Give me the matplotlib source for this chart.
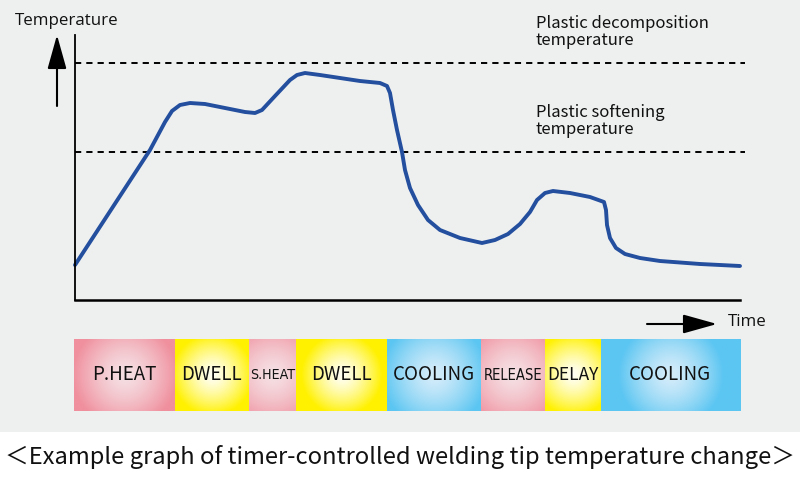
import numpy as np
import matplotlib
matplotlib.use("Agg")
import matplotlib.pyplot as plt

# ---------------- data ----------------
# time in arbitrary units (0..665), temperature in arbitrary units (0..265)
time = [0, 75, 90, 97, 105, 115, 130, 150, 170, 180, 187, 200, 215, 222, 230, 245,
        265, 285, 305, 312, 315, 318, 322, 327, 330, 335, 343, 353, 365, 385, 407,
        420, 433, 445, 455, 462, 470, 478, 495, 515, 529, 531, 532, 535, 541, 550,
        565, 585, 625, 665]
temperature = [35, 150, 178, 189, 195, 197, 196, 192, 188, 187, 190, 204, 220, 225,
               227, 225, 222, 219, 217, 214, 207, 190, 170, 148, 130, 112, 95, 80,
               70, 62, 57, 60, 66, 76, 88, 100, 107, 109, 107, 103, 98, 90, 75, 62,
               52, 46, 42, 39, 36, 34]

decomp_temp = 237
soften_temp = 148

phases = ["P.HEAT", "DWELL", "S.HEAT", "DWELL", "COOLING", "RELEASE", "DELAY", "COOLING"]
durations = [101, 74, 47, 91, 94, 63, 56, 139]
kinds = ["heat", "dwell", "heat", "dwell", "cool", "heat", "dwell", "cool"]

caption = "＜Example graph of timer-controlled welding tip temperature change＞"

# ---------------- fonts ----------------
JP = ["Noto Sans CJK JP", "DejaVu Sans"]

# ---------------- figure ----------------
W, H = 800, 482
fig = plt.figure(figsize=(W / 100, H / 100), dpi=100)
fig.patch.set_facecolor("white")

bg = fig.add_axes([0, 1 - 432 / H, 1, 432 / H])
bg.set_facecolor("#eef0f0")
bg.set_xticks([]); bg.set_yticks([])
for s in bg.spines.values():
    s.set_visible(False)

x0, x1 = 75, 740
ytop, ybot = 35, 300
ax = fig.add_axes([x0 / W, 1 - ybot / H, (x1 - x0) / W, (ybot - ytop) / H])
ax.set_facecolor("none")
ax.set_xlim(0, 665)
ax.set_ylim(0, 265)
ax.set_xticks([]); ax.set_yticks([])
ax.spines["top"].set_visible(False)
ax.spines["right"].set_visible(False)
ax.spines["left"].set_linewidth(1.3)
ax.spines["bottom"].set_linewidth(1.8)

for yv in (decomp_temp, soften_temp):
    ax.plot([0, 670], [yv, yv], color="black", lw=1.4, ls=(0, (3.2, 2.6)),
            clip_on=False, solid_capstyle="butt")

ax.plot(time, temperature, color="#234f9e", lw=2.8, solid_joinstyle="round",
        solid_capstyle="round", clip_on=False)

ax.text(461, 285, "Plastic decomposition\ntemperature", ha="left", va="top",
        linespacing=1.0, family=JP, fontsize=12, color="#111111")
ax.text(461, 196, "Plastic softening\ntemperature", ha="left", va="top",
        linespacing=1.0, family=JP, fontsize=12, color="#111111")

fig.text(15 / W, 1 - 21 / H, "Temperature", ha="left", va="center",
         family=["Open Sans", "DejaVu Sans"], fontsize=12.2, color="#111111")
fig.text(728 / W, 1 - 322 / H, "Time", ha="left", va="center",
         family=["Open Sans", "DejaVu Sans"], fontsize=12.2, color="#111111")
for (xa, ya), (xb, yb) in (((57, 106), (57, 35)), ((647, 324), (717, 324))):
    fig.add_artist(matplotlib.patches.FancyArrowPatch(
        (xa / W, 1 - ya / H), (xb / W, 1 - yb / H), transform=fig.transFigure,
        arrowstyle="-|>,head_length=1.5,head_width=0.42", mutation_scale=14,
        lw=1.5, color="black", shrinkA=0, shrinkB=0))

# phase bars with radial gradients
b_top, b_bot = 339, 411
bx0 = 73.5
bax = fig.add_axes([bx0 / W, 1 - b_bot / H, (x1 - bx0) / W, (b_bot - b_top) / H])
bax.axis("off")

cols = {
    "heat": (np.array([0xf5, 0xe0, 0xe4]) / 255, np.array([0xf0, 0x8f, 0x9d]) / 255),
    "dwell": (np.array([0xff, 0xff, 0xf4]) / 255, np.array([0xff, 0xf1, 0x00]) / 255),
    "cool": (np.array([0xd4, 0xec, 0xfa]) / 255, np.array([0x5c, 0xc6, 0xf2]) / 255),
}
bar_h_px = b_bot - b_top
px_per_unit = (x1 - bx0) / sum(durations)
start = 0
for name, d, k in zip(phases, durations, kinds):
    wpx = int(round(d * px_per_unit))
    xs = (np.arange(wpx) + 0.5) - wpx / 2
    ys = (np.arange(bar_h_px) + 0.5) - bar_h_px / 2
    XX, YY = np.meshgrid(xs, ys)
    R = 52 if k != "dwell" else 40
    t = np.clip(np.sqrt(XX ** 2 + YY ** 2) / R, 0, 1) ** 1.4
    c0, c1 = cols[k]
    img = c0[None, None, :] * (1 - t[..., None]) + c1[None, None, :] * t[..., None]
    bax.imshow(img, extent=[start, start + d, 0, 1], aspect="auto",
               interpolation="bilinear", zorder=1)
    if name in ("S.HEAT", "RELEASE"):
        bax.text(start + d / 2, 0.5, name, ha="center", va="center",
                 family="DejaVu Sans", fontstretch="condensed",
                 fontsize=10.6 if name == "RELEASE" else 10.2,
                 color="#111111", zorder=3)
    else:
        bax.text(start + d / 2, 0.5, name, ha="center", va="center",
                 family=JP, fontsize=12.5 if name == "DELAY" else 13.5,
                 color="#111111", zorder=3)
    start += d
bax.set_xlim(0, sum(durations))
bax.set_ylim(0, 1)

fig.text(0.5, 1 - 457 / H, caption, ha="center", va="center",
         family=JP, fontsize=17.1, color="#111111")

fig.savefig("out.png", dpi=100, facecolor=fig.get_facecolor())
